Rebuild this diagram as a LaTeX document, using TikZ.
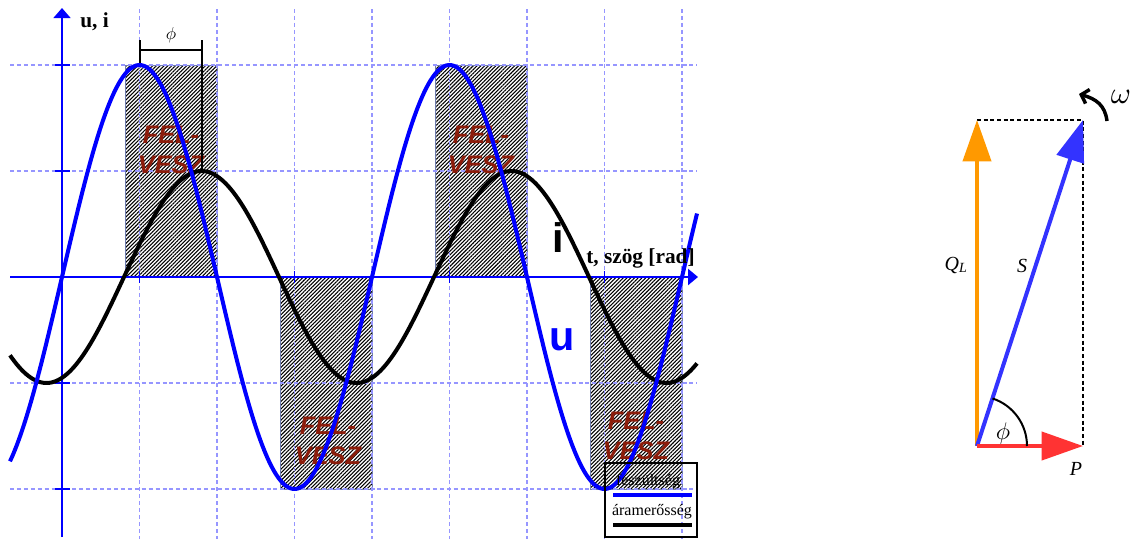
\documentclass[tikz,border=0pt]{standalone}
\usepackage{fontspec}
\setmainfont{Liberation Serif}
\setsansfont{Liberation Sans}
\usetikzlibrary{arrows.meta,patterns.meta}
\definecolor{gridc}{RGB}{150,150,255}
\definecolor{felc}{RGB}{140,28,10}
\definecolor{hatchb}{RGB}{110,125,175}
\definecolor{qcol}{RGB}{255,153,0}
\definecolor{scol}{RGB}{51,51,255}
\definecolor{pcol}{RGB}{255,51,51}
\begin{document}
\begin{tikzpicture}[x=0.75pt,y=-0.75pt,
  gridline/.style={draw=gridc, line width=1.1pt, dash pattern=on 3pt off 2.2pt},
  axisline/.style={draw=blue, line width=2.2pt},
  tickline/.style={draw=blue, line width=1.2pt},
  hatchbox/.style={pattern={Lines[angle=45,distance=2pt,line width=0.8pt]}, draw=hatchb, line width=0.6pt},
  felvesz/.style={text=felc, font=\sffamily\bfseries\itshape\fontsize{19}{22}\selectfont, align=center},
  ucurve/.style={draw=blue, line width=3pt, line join=round},
  icurve/.style={draw=black, line width=3pt, line join=round},
  vec/.style={line width=3pt},
  lbl/.style={font=\itshape\fontsize{15}{15}\selectfont, inner sep=0pt}]
\useasboundingbox (0,0) rectangle (1132,539);

% hatched regions
\draw[hatchbox] (125,65) rectangle (217,277);
\draw[hatchbox] (280,277) rectangle (372,489);
\draw[hatchbox] (435,65) rectangle (527,277);
\draw[hatchbox] (590,277) rectangle (682,489);

% grid
\foreach \gy in {65,171,383,489} \draw[gridline] (10,\gy) -- (697,\gy);
\foreach \gx in {139.5,217,294.5,372,449.5,527,604.5,682} \draw[gridline] (\gx,9) -- (\gx,539);

% FEL-VESZ labels
\node[felvesz] (f1) at (171,150) {FEL-\\VESZ};
\node[felvesz] (f2) at (328,441) {FEL-\\VESZ};
\node[felvesz] (f3) at (481,150) {FEL-\\VESZ};
\node[felvesz] (f4) at (636,436) {FEL-\\VESZ};

% axes
\coordinate (ybot) at (62,537);
\coordinate (ytop) at (62,8);
\coordinate (xleft) at (10,277);
\coordinate (xright) at (698,277);
\draw[axisline, -{Triangle[width=12.5pt,length=7.5pt]}] (ybot) -- (ytop);
\draw[axisline, -{Triangle[width=12pt,length=7.5pt]}] (xleft) -- (xright);
\foreach \gy in {65,171,383,489} \draw[tickline] (55,\gy) -- (70,\gy);
\foreach \gx in {139.5,217,294.5,372,449.5,527,604.5,682} \draw[tickline] (\gx,271) -- (\gx,283);

% curves
\draw[icurve] plot[domain=10:697, samples=300, smooth] (\x, {277-106*sin(1.16129*(\x-124))});
\draw[ucurve] plot[domain=10:697, samples=300, smooth] (\x, {277-212*sin(1.16129*(\x-62))});

% phi bracket
\coordinate (b1) at (140,40);
\coordinate (b2) at (140,63);
\coordinate (b3) at (202,40);
\coordinate (b4) at (202,171);
\coordinate (bl) at (140,50);
\coordinate (br) at (202,50);
\draw[line width=1.5pt] (b1) -- (b2);
\draw[line width=1.5pt] (b3) -- (b4);
\draw[line width=1.5pt] (bl) -- (br);
\node[inner sep=0pt] (phib) at (171,35) {\scalebox{1.3}{$\phi$}};

% axis labels
\node[anchor=base west, inner sep=0pt, font=\bfseries\fontsize{16}{16}\selectfont] (ylab) at (80,27) {u, i};
\node[anchor=base west, inner sep=0pt, font=\bfseries\fontsize{16}{16}\selectfont] (xlab) at (586,263) {t, szög [rad]};
\node[anchor=base, inner sep=0pt, font=\sffamily\bfseries\fontsize{31}{31}\selectfont] (ilab) at (558,252) {i};
\node[anchor=base, inner sep=0pt, text=blue, font=\sffamily\bfseries\fontsize{31}{31}\selectfont] (ulab) at (562,350) {u};

% legend
\draw[line width=0.8pt] (605,463) rectangle (697,537);
\node[inner sep=0pt, font=\fontsize{12}{12}\selectfont] (leg1) at (648,482) {feszültség};
\node[inner sep=0pt, font=\fontsize{12}{12}\selectfont] (leg2) at (652,512) {áramerősség};
\coordinate (lb1) at (613,495);
\coordinate (lb2) at (692,495);
\coordinate (lk1) at (613,525);
\coordinate (lk2) at (692,525);
\draw[draw=blue, line width=3pt] (lb1) -- (lb2);
\draw[draw=black, line width=3pt] (lk1) -- (lk2);

% phasor diagram
\coordinate (O) at (977,446);
\coordinate (Q) at (977,120);
\coordinate (S) at (1083,120);
\coordinate (P) at (1083,446);
\draw[dash pattern=on 3pt off 2pt, line width=0.8pt] (Q) -- (S) -- (P);
\draw[vec, qcol, -{Triangle[width=21pt,length=31pt]}] (O) -- (Q);
\draw[vec, scol, -{Triangle[width=21pt,length=31pt]}] (O) -- (S);
\draw[vec, pcol, -{Triangle[width=21pt,length=31pt]}] (O) -- (P);
\draw[line width=1.5pt] (1027,446) arc[start angle=0, end angle=-72, radius=50];
\node[inner sep=0pt] (phil) at (1003,433) {\scalebox{1.8}{$\phi$}};
\node[lbl] (ql) at (956,265) {Q\textsubscript{L}};
\node[lbl] (sl) at (1022,266) {S};
\node[lbl] (pl) at (1076,469) {P};
\coordinate (w1) at (1107,121);
\coordinate (w2) at (1079,94);
\draw[line width=2.6pt, -{Straight Barb[length=5pt,width=11pt]}] (w1) .. controls (1105,105) and (1096,99) .. (w2);
\node[inner sep=0pt] (wl) at (1121,97) {\scalebox{2.3}{$\omega$}};
\end{tikzpicture}
\end{document}
